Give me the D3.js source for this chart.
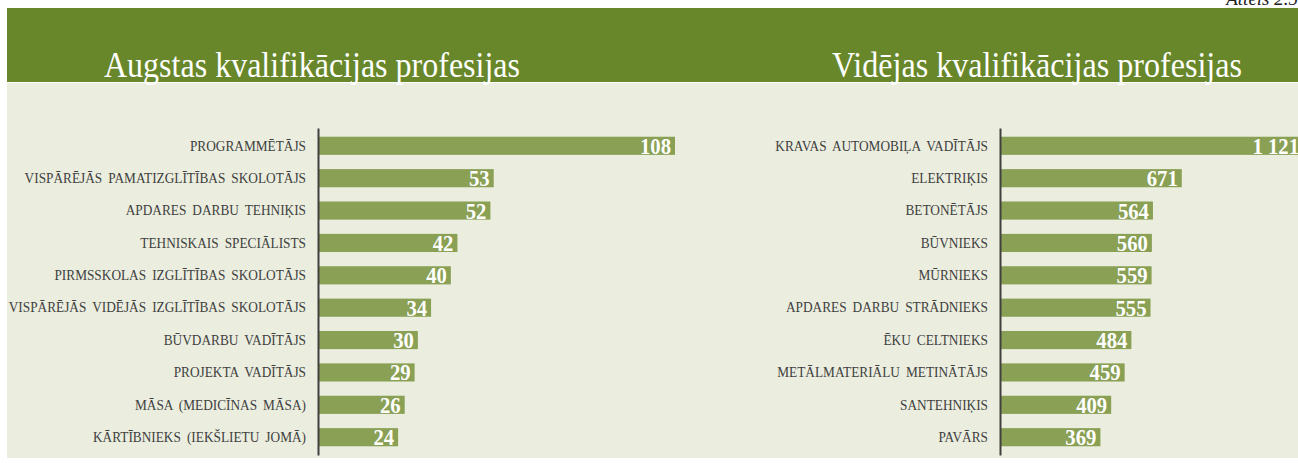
<!DOCTYPE html>
<html>
<head>
<meta charset="utf-8">
<script src="https://cdn.jsdelivr.net/npm/d3@7"></script>
<style>
  html, body { margin: 0; padding: 0; background: #ffffff; }
  svg { display: block; }
</style>
</head>
<body>
<svg id="chart" width="1298" height="463"></svg>
<script>
const leftTitle = "Augstas kvalifikācijas profesijas";
const rightTitle = "Vidējas kvalifikācijas profesijas";
const figureLabel = "Attēls 2.5";

const leftCategories = [
  "PROGRAMMĒTĀJS",
  "VISPĀRĒJĀS PAMATIZGLĪTĪBAS SKOLOTĀJS",
  "APDARES DARBU TEHNIĶIS",
  "TEHNISKAIS SPECIĀLISTS",
  "PIRMSSKOLAS IZGLĪTĪBAS SKOLOTĀJS",
  "VISPĀRĒJĀS VIDĒJĀS IZGLĪTĪBAS SKOLOTĀJS",
  "BŪVDARBU VADĪTĀJS",
  "PROJEKTA VADĪTĀJS",
  "MĀSA (MEDICĪNAS MĀSA)",
  "KĀRTĪBNIEKS (IEKŠLIETU JOMĀ)"
];
const leftValues = [108, 53, 52, 42, 40, 34, 30, 29, 26, 24];

const rightCategories = [
  "KRAVAS AUTOMOBIĻA VADĪTĀJS",
  "ELEKTRIĶIS",
  "BETONĒTĀJS",
  "BŪVNIEKS",
  "MŪRNIEKS",
  "APDARES DARBU STRĀDNIEKS",
  "ĒKU CELTNIEKS",
  "METĀLMATERIĀLU METINĀTĀJS",
  "SANTEHNIĶIS",
  "PAVĀRS"
];
const rightValues = [1121, 671, 564, 560, 559, 555, 484, 459, 409, 369];

const svg = d3.select("#chart");
const W = 1298, H = 463;
const SERIF = "Liberation Serif, Times New Roman, serif";

svg.append("defs").append("clipPath").attr("id", "clip")
  .append("rect").attr("x", 0).attr("y", 0).attr("width", W).attr("height", H);

// backgrounds
svg.append("rect").attr("x", 7).attr("y", 8).attr("width", W - 7).attr("height", 74).attr("fill", "#67872A");
svg.append("rect").attr("x", 7).attr("y", 83).attr("width", W - 7).attr("height", 375).attr("fill", "#EBEEDF");

svg.append("text").attr("x", 1298).attr("y", 5).attr("text-anchor", "end")
  .attr("font-family", SERIF).attr("font-style", "italic")
  .attr("font-size", 19).attr("fill", "#222").text(figureLabel);

const fmt = v => d3.format(",")(v).replace(/,/g, " ");

function drawPanel(cfg) {
  const g = svg.append("g").attr("clip-path", "url(#clip)");
  g.append("text").attr("x", cfg.titleX).attr("y", 77)
    .attr("font-family", SERIF)
    .attr("font-size", 36).attr("fill", "#ffffff")
    .attr("textLength", cfg.titleW).attr("lengthAdjust", "spacingAndGlyphs")
    .text(cfg.title);

  const y = d3.scaleBand().domain(cfg.categories).range([128, 455])
    .paddingInner(0.44).paddingOuter(0.27);
  const x = d3.scaleLinear().domain([0, d3.max(cfg.values)]).range([cfg.x0, cfg.x1]);

  const data = cfg.categories.map((c, i) => ({ c, v: cfg.values[i] }));

  g.selectAll("rect.bar").data(data).join("rect").attr("class", "bar")
    .attr("x", x(0)).attr("y", d => y(d.c))
    .attr("width", d => x(d.v) - x(0)).attr("height", y.bandwidth())
    .attr("fill", "#89A055");

  g.selectAll("text.val").data(data).join("text").attr("class", "val")
    .attr("transform", d => `translate(${x(d.v) - 4},${y(d.c) + y.bandwidth() / 2 + 8}) scale(0.9,1)`)
    .attr("text-anchor", "end")
    .attr("font-family", SERIF)
    .attr("font-weight", "bold").attr("font-size", 23).attr("fill", "#ffffff")
    .text(d => fmt(d.v));

  const axis = d3.axisLeft(y).tickSize(0).tickPadding(12);
  const ag = g.append("g").attr("transform", `translate(${cfg.x0 - 1},0)`).call(axis);
  ag.select(".domain").attr("stroke", "#404040").attr("stroke-width", 2);
  ag.selectAll(".tick text")
    .attr("x", 0)
    .attr("transform", "translate(-12,0) scale(0.9,1)")
    .attr("font-family", SERIF)
    .attr("font-size", 14.8).attr("fill", "#404040")
    .style("word-spacing", "3px");
}

drawPanel({ title: leftTitle, titleX: 104, titleW: 416, categories: leftCategories, values: leftValues, x0: 319, x1: 675 });
drawPanel({ title: rightTitle, titleX: 832, titleW: 410, categories: rightCategories, values: rightValues, x0: 1001, x1: 1303 });
</script>
</body>
</html>
